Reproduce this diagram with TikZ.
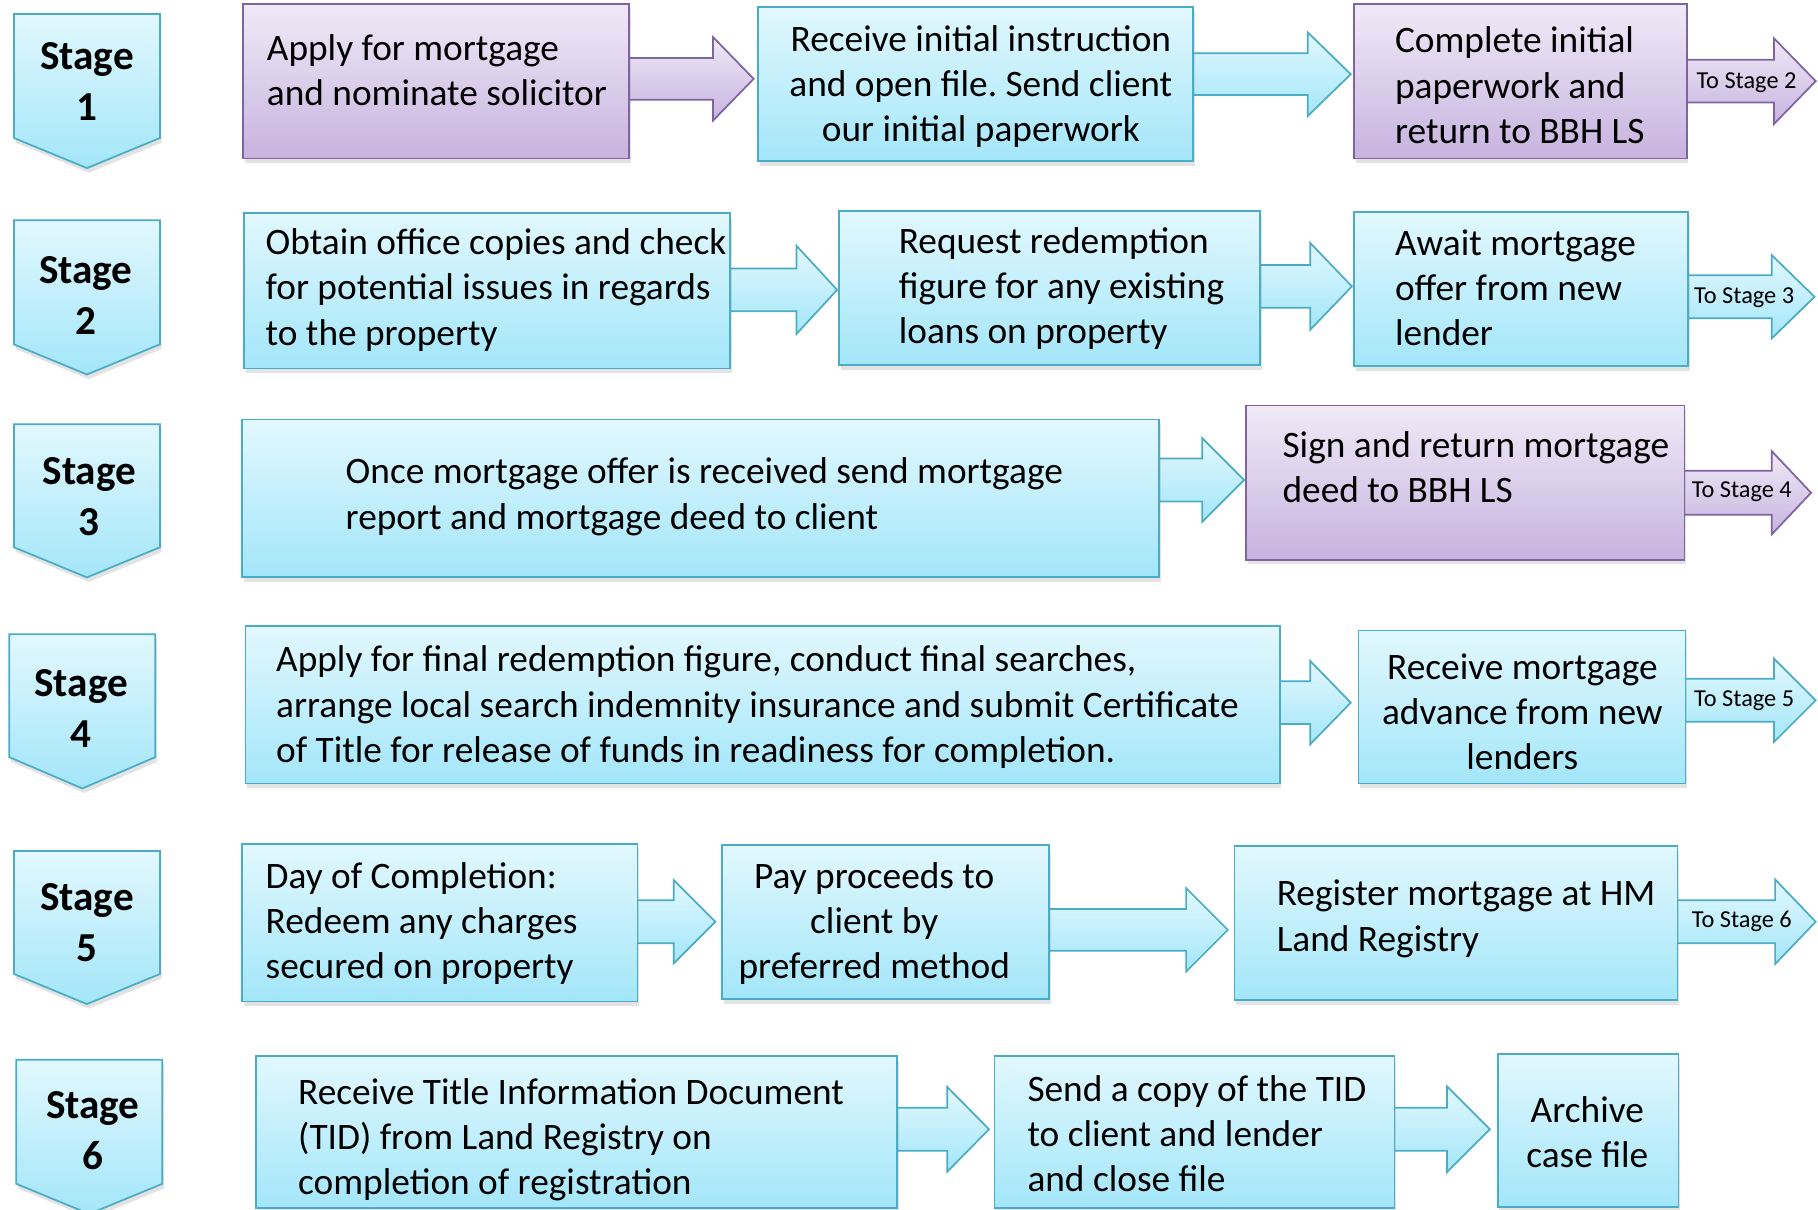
\documentclass[tikz,border=0pt]{standalone}
\usepackage{fontspec}
\setmainfont{Carlito}
\frenchspacing
\usetikzlibrary{shadows}
\definecolor{cyT}{HTML}{E2F8FE}
\definecolor{cyB}{HTML}{A3E6F9}
\definecolor{cyD}{HTML}{4BACC6}
\definecolor{puT}{HTML}{F0EAF7}
\definecolor{puB}{HTML}{C7B3DF}
\definecolor{puD}{HTML}{8064A2}
\tikzset{
  shad/.style={drop shadow={shadow xshift=1.5pt, shadow yshift=-4pt, opacity=0.22}},
  cbox/.style={draw=cyD, line width=1.5pt, top color=cyT, bottom color=cyB, shad, inner sep=0pt, anchor=north west},
  pbox/.style={draw=puD, line width=1.5pt, top color=puT, bottom color=puB, shad, inner sep=0pt, anchor=north west},
  carrow/.style={draw=cyD, line width=1.5pt, top color=cyT, bottom color=cyB},
  parrow/.style={draw=puD, line width=1.5pt, top color=puT, bottom color=puB},
  cstage/.style={draw=cyD, line width=1.5pt, top color=cyT, bottom color=cyB, shad},
  txt/.style={font=\fontsize{32.2}{39}\selectfont, inner sep=0pt, align=left, anchor=west},
  ctxt/.style={font=\fontsize{32.2}{39}\selectfont, inner sep=0pt, align=center, anchor=center},
  stxt/.style={font=\bfseries\fontsize{35.5}{44}\selectfont, inner sep=0pt, align=center, anchor=center},
  small/.style={font=\fontsize{21}{24}\selectfont, inner sep=0pt, anchor=west},
}
% style, xstart, xbase, xtip, ycentre, shaft half, head half
\newcommand\barrow[7]{%
  \path[#1] (#2,#5-#6) -- (#3,#5-#6) -- (#3,#5-#7) -- (#4,#5) -- (#3,#5+#7) -- (#3,#5+#6) -- (#2,#5+#6) -- cycle;}
% x0, x1, ytop, yside, ypoint
\newcommand\stageshape[5]{%
  \path[cstage] (#1,#3) -- (#2,#3) -- (#2,#4) -- ({(#1+#2)/2},#5) -- (#1,#4) -- cycle;}
% style, name, x0, y0, x1, y1
\newcommand\mybox[6]{%
  \node[#1, minimum width={(#5-#3)*1pt}, minimum height={(#6-#4)*1pt}] (#2) at (#3,#4) {};}
\begin{document}
\begin{tikzpicture}[x=1pt,y=-1pt]
\useasboundingbox (0,0) rectangle (1568,1043);
\fill[white] (0,0) rectangle (1568,1043);

% stages
\stageshape{12}{138}{12}{119}{145}
\node[stxt] (s1) at (75,70) {Stage\\1};
\stageshape{12}{138}{190}{297}{323}
\node[stxt] (s2) at (74,254.5) {Stage\\2};
\stageshape{12}{138}{366}{472}{498}
\node[stxt] (s3) at (77,428) {Stage\\3};
\stageshape{8}{134}{547}{653}{680}
\node[stxt] (s4) at (70,611) {Stage\\4};
\stageshape{12}{138}{734}{840}{866}
\node[stxt] (s5) at (75,796) {Stage\\5};
\stageshape{14}{140}{914}{1021}{1047}
\node[stxt] (s6) at (80,975) {Stage\\6};

% arrows
\barrow{parrow}{542}{615}{650}{68}{18}{36}
\barrow{carrow}{1028}{1128}{1165}{64}{18}{36}
\barrow{parrow}{1454}{1530}{1566}{70}{18.5}{37}
\barrow{carrow}{629}{687}{722}{250}{18.5}{38}
\barrow{carrow}{1086}{1130}{1166}{247}{18.5}{37.5}
\barrow{carrow}{1455}{1528}{1565}{256}{18.5}{36}
\barrow{carrow}{999}{1037}{1073}{414}{18.5}{36}
\barrow{parrow}{1452}{1528}{1562}{425}{19}{36}
\barrow{carrow}{1103}{1130}{1165}{606}{18.5}{36}
\barrow{carrow}{1453}{1530}{1566}{604}{18.5}{36}
\barrow{carrow}{549}{581}{617}{795}{18.5}{36}
\barrow{carrow}{904}{1023}{1059}{802}{18}{36}
\barrow{carrow}{1446}{1531}{1566}{795}{18.5}{36.5}
\barrow{carrow}{773}{817}{853}{974}{18.5}{36.5}
\barrow{carrow}{1202}{1248}{1285}{974}{18.5}{37}

\node[small] (o1) at (1463,71) {To Stage 2};
\node[small] (o2) at (1461,257) {To Stage 3};
\node[small] (o3) at (1459,424) {To Stage 4};
\node[small] (o4) at (1461,604) {To Stage 5};
\node[small] (o5) at (1459,795) {To Stage 6};

% boxes
\mybox{pbox}{a1}{209}{3}{542}{136}
\node[txt] (a1t) at (230,60.5) {Apply for mortgage\\and nominate solicitor};
\mybox{cbox}{a2}{653}{5}{1028}{138}
\node[ctxt] (a2t) at (846,74.5) {Receive initial instruction\\and open file. Send client\\our initial paperwork};
\mybox{pbox}{a3}{1167}{3}{1454}{136}
\node[txt] (a3t) at (1203,73.5) {Complete initial\\paperwork and\\return to BBH LS};

\mybox{cbox}{b1}{210}{183}{629}{317}
\node[txt] (b1t) at (229,250) {Obtain office copies and check\\for potential issues in regards\\to the property};
\mybox{cbox}{b2}{723}{181}{1086}{314}
\node[txt] (b2t) at (775,249) {Request redemption\\figure for any existing\\loans on property};
\mybox{cbox}{b3}{1167}{182}{1455}{315}
\node[txt] (b3t) at (1203,248) {Await mortgage\\offer from new\\lender};

\mybox{cbox}{c1}{208}{361}{999}{497}
\node[txt] (c1t) at (298,428.5) {Once mortgage offer is received send mortgage\\report and mortgage deed to client};
\mybox{pbox}{c2}{1074}{349}{1452}{482}
\node[txt] (c2t) at (1106,403) {Sign and return mortgage\\deed to BBH LS};

\mybox{cbox}{d1}{211}{539}{1103}{675}
\node[txt] (d1t) at (238,610) {Apply for final redemption figure, conduct final searches,\\arrange local search indemnity insurance and submit Certificate\\of Title for release of funds in readiness for completion.};
\mybox{cbox}{d2}{1171}{543}{1453}{675}
\node[ctxt] (d2t) at (1313,614) {Receive mortgage\\advance from new\\lenders};

\mybox{cbox}{e1}{208}{727}{549}{863}
\node[txt] (e1t) at (229,796.5) {Day of Completion:\\Redeem any charges\\secured on property};
\mybox{cbox}{e2}{622}{728}{904}{861}
\node[ctxt] (e2t) at (754,796.5) {Pay proceeds to\\client by\\preferred method};
\mybox{cbox}{e3}{1064}{729}{1446}{862}
\node[txt] (e3t) at (1101,792.5) {Register mortgage at HM\\Land Registry};

\mybox{cbox}{f1}{220}{910}{773}{1041}
\node[txt] (f1t) at (257,983) {Receive Title Information Document\\(TID) from Land Registry on\\completion of registration};
\mybox{cbox}{f2}{857}{910}{1202}{1041}
\node[txt] (f2t) at (886,978) {Send a copy of the TID\\to client and lender\\and close file};
\mybox{cbox}{f3}{1291}{908}{1447}{1040}
\node[ctxt] (f3t) at (1369,976.5) {Archive\\case file};
\end{tikzpicture}
\end{document}
